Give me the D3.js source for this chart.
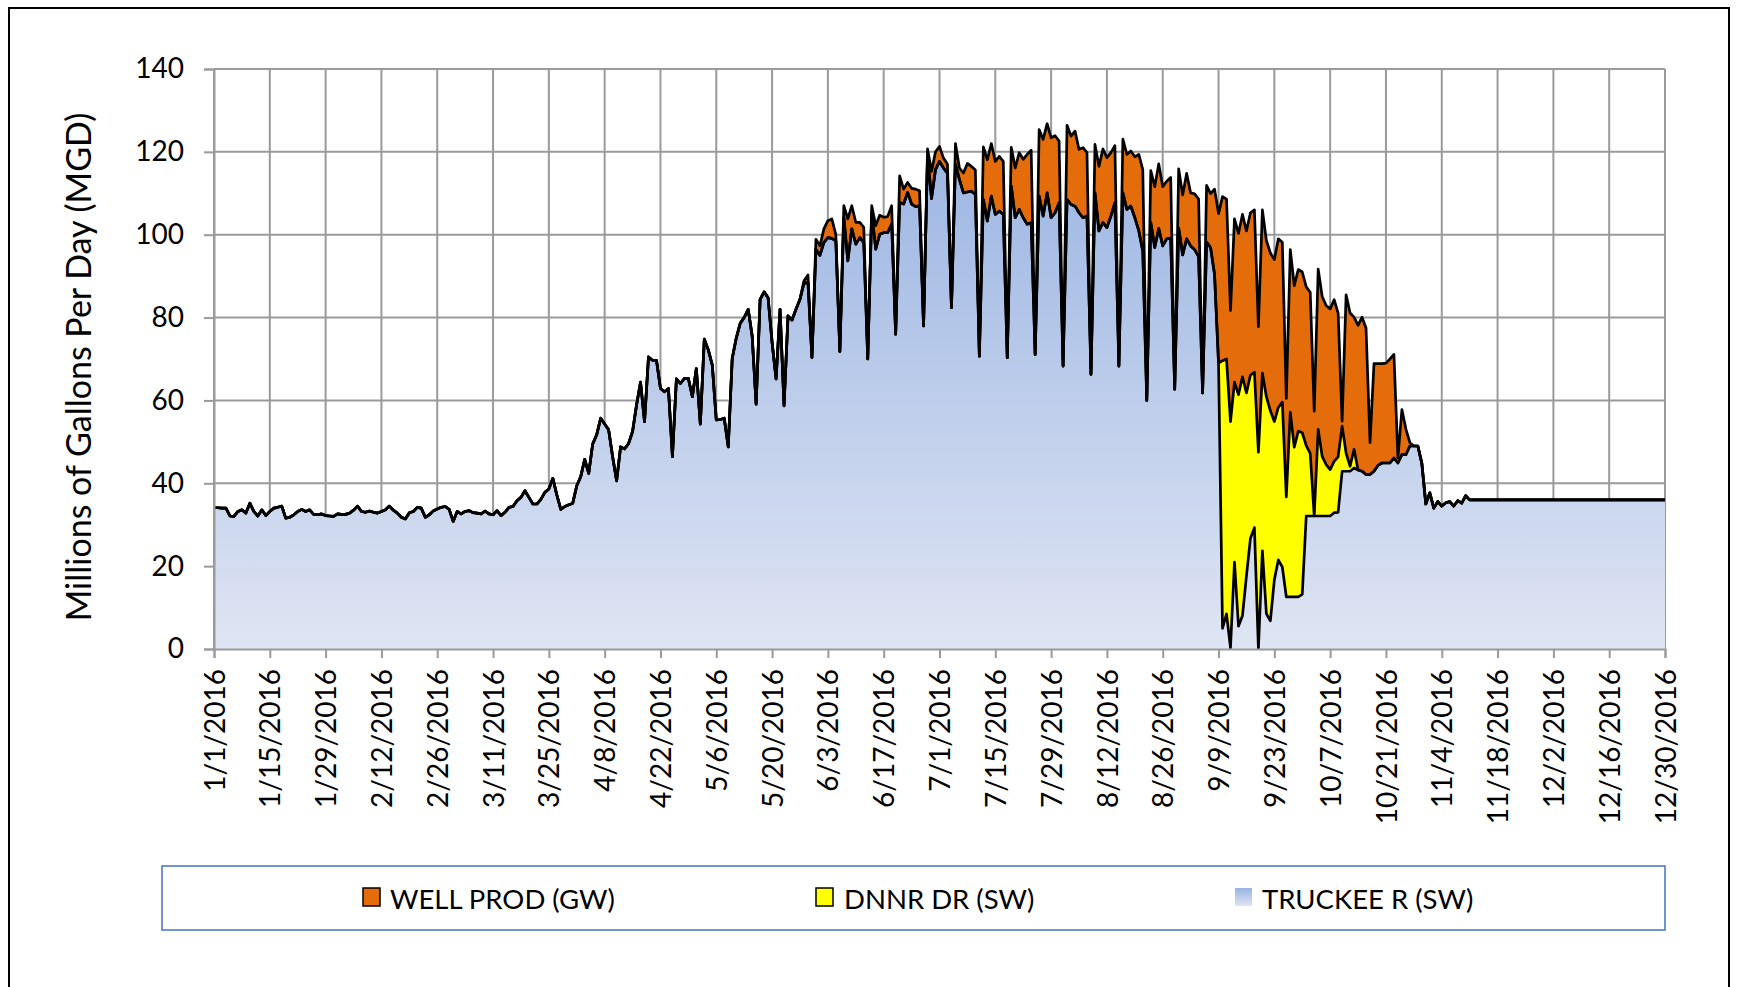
<!DOCTYPE html>
<html>
<head>
<meta charset="utf-8">
<script src="https://cdn.jsdelivr.net/npm/d3@7"></script>
<style>
  html, body { margin: 0; padding: 0; background: #fff; }
  svg { display: block; }
</style>
</head>
<body>
<script>
// daily values, MGD, starting 1/1/2016
const startDate = new Date(2016, 0, 1);
const endTickDate = new Date(2016, 11, 30);

const truckee = [
  34.1, 34.1, 34.0, 34.0, 32.1, 32.0, 33.2, 33.6, 32.8, 35.2,
  33.2, 32.1, 33.6, 32.2, 33.2, 34.0, 34.2, 34.5, 31.6, 31.8,
  32.4, 33.2, 33.7, 33.2, 33.6, 32.5, 32.4, 32.6, 32.2, 32.1,
  32.0, 32.6, 32.5, 32.5, 32.8, 33.5, 34.5, 33.2, 33.0, 33.3,
  33.0, 32.8, 33.2, 33.6, 34.5, 33.5, 32.8, 31.8, 31.4, 32.9,
  33.2, 34.2, 34.0, 31.8, 32.4, 33.3, 33.8, 34.2, 34.4, 33.7,
  30.8, 33.2, 32.6, 33.2, 33.4, 32.9, 32.8, 32.6, 33.3, 32.6,
  32.4, 33.4, 32.2, 33.0, 34.2, 34.4, 35.8, 36.6, 38.2, 36.6,
  35.0, 35.0, 36.1, 37.8, 38.6, 41.2, 37.2, 33.7, 34.4, 34.8,
  35.2, 39.4, 41.6, 45.8, 42.4, 49.5, 51.7, 55.7, 54.3, 52.9,
  46.4, 40.6, 48.8, 48.3, 49.6, 52.5, 58.9, 64.4, 54.9, 70.5,
  69.7, 69.7, 62.9, 62.1, 62.9, 46.4, 65.2, 64.1, 65.3, 65.3,
  60.9, 67.7, 54.3, 74.8, 72.2, 68.5, 55.3, 55.4, 55.7, 48.8,
  70.1, 75.0, 78.6, 80.0, 82.0, 75.6, 59.1, 84.4, 86.2, 84.8,
  74.0, 65.2, 82.0, 58.7, 80.4, 79.4, 82.0, 84.4, 88.3, 88.5,
  70.4, 96.5, 95.0, 98.1, 99.3, 99.1, 98.5, 71.8, 104.2, 93.7,
  101.4, 97.7, 99.3, 98.1, 70.0, 105.4, 96.5, 100.1, 100.5, 100.5,
  102.6, 76.0, 107.8, 107.4, 110.2, 107.4, 106.8, 107.0, 78.0, 119.0,
  108.7, 115.7, 117.7, 116.1, 114.8, 82.4, 117.0, 113.3, 110.1, 110.3,
  110.5, 109.7, 70.7, 108.5, 103.3, 109.3, 104.9, 105.7, 104.9, 70.3,
  111.7, 104.1, 106.1, 104.1, 102.5, 102.9, 71.1, 109.3, 104.5, 110.1,
  104.1, 105.3, 107.7, 68.3, 108.5, 107.3, 106.9, 105.3, 104.1, 104.5,
  66.3, 110.1, 100.9, 102.9, 101.7, 104.5, 107.7, 68.3, 110.1, 106.1,
  106.9, 104.1, 100.9, 96.0, 60.0, 102.9, 96.9, 101.5, 97.3, 99.0,
  99.2, 62.7, 101.6, 95.1, 99.0, 97.3, 96.4, 94.7, 61.8, 98.2,
  96.9, 90.4, 69.0, 5.0, 8.5, 0.3, 21.0, 5.5, 8.0, 17.6,
  26.7, 29.3, 0.0, 23.7, 8.5, 6.8, 16.7, 21.5, 19.8, 12.6,
  12.6, 12.6, 12.6, 13.2, 32.1, 32.1, 32.1, 32.1, 32.1, 32.1,
  32.1, 32.9, 33.0, 42.9, 42.9, 42.9, 43.7, 43.2, 42.9, 42.1,
  42.1, 42.9, 44.3, 44.9, 44.9, 44.9, 46.1, 44.9, 46.9, 46.9,
  49.0, 49.0, 49.0, 44.8, 35.0, 37.7, 34.0, 35.6, 34.5, 35.3,
  35.6, 34.5, 35.8, 35.2, 37.0, 36.0, 36.0, 36.0, 36.0, 36.0,
  36.0, 36.0, 36.0, 36.0, 36.0, 36.0, 36.0, 36.0, 36.0, 36.0,
  36.0, 36.0, 36.0, 36.0, 36.0, 36.0, 36.0, 36.0, 36.0, 36.0,
  36.0, 36.0, 36.0, 36.0, 36.0, 36.0, 36.0, 36.0, 36.0, 36.0,
  36.0, 36.0, 36.0, 36.0, 36.0, 36.0, 36.0, 36.0, 36.0, 36.0,
  36.0, 36.0, 36.0, 36.0, 36.0
];

// Donner diversion, 9/9 - 10/14 (zero the rest of the year)
const dnnrFrom = new Date(2016, 8, 9);
const dnnr = [
  0.0, 64.6, 61.5, 54.6, 43.4, 55.9, 57.7, 44.2, 39.4, 37.5,
  47.5, 42.9, 52.4, 50.7, 38.2, 36.8, 39.8, 24.1, 44.6, 36.1,
  40.0, 39.0, 17.0, 15.1, 0.0, 20.9, 14.4, 12.4, 11.2, 12.4,
  13.4, 10.9, 4.4, 1.2, 4.5, 0.0
];

// well production, 5/28 - 10/27 (zero the rest of the year)
const wellFrom = new Date(2016, 4, 28);
const well = [
  0.6, 1.8, 0.0, 2.4, 2.3, 3.3, 4.1, 4.7, 1.5, 0.0,
  2.8, 10.1, 5.6, 5.3, 3.7, 3.7, 0.0,
  1.6, 5.7, 4.6, 3.7, 3.9, 4.4, 0.0,
  6.4, 3.6, 2.4, 3.8, 4.2, 3.6, 0.0,
  1.7, 6.6, 4.3, 3.6, 2.4, 2.2, 0.0,
  5.0, 2.8, 4.8, 6.9, 6.0, 5.9, 0.0,
  12.7, 14.8, 12.7, 12.8, 13.2, 12.8, 0.0,
  9.4, 12.0, 13.7, 14.1, 16.9, 17.5, 0.0,
  16.1, 18.5, 16.7, 19.3, 18.6, 14.9, 0.0,
  17.9, 16.5, 18.1, 15.3, 16.9, 15.3, 0.0,
  11.7, 15.6, 17.8, 16.9, 15.3, 13.8, 0.0,
  13.0, 13.3, 13.3, 14.7, 18.5, 19.7, 0.0,
  12.6, 14.7, 15.6, 14.3, 13.9, 14.6, 0.0,
  14.3, 14.5, 15.8, 12.8, 13.5, 13.9, 0.0,
  13.7, 13.0, 20.6, 36.1, 39.6, 38.6, 26.8,
  39.4, 38.9, 39.2, 39.1, 39.2, 39.2, 30.3,
  39.4, 37.7, 38.1, 39.1, 40.7, 38.6, 23.8,
  39.2, 39.0, 39.0, 38.8, 38.3, 38.9, 25.3,
  38.7, 38.6, 38.4, 38.8, 39.0, 34.7, 1.2,
  38.2, 37.0, 31.9, 34.9, 37.2, 35.4, 7.7,
  26.0, 24.6, 24.0, 24.1, 25.1, 25.0, 1.2,
  10.9, 6.2, 0.8
];

const yTicks = [0, 20, 40, 60, 80, 100, 120, 140];
const seriesNames = ["WELL PROD (GW)", "DNNR DR (SW)", "TRUCKEE R (SW)"];

const width = 1737;
const height = 987;
const plot = { left: 214, right: 1665, top: 69, bottom: 649 };
const font = "Lato, 'Open Sans', Arial, sans-serif";

const dates = truckee.map((_, i) => d3.timeDay.offset(startDate, i));
const dnnrOffset = d3.timeDay.count(startDate, dnnrFrom);
const wellOffset = d3.timeDay.count(startDate, wellFrom);

const rows = dates.map((date, i) => ({
  date,
  truckee: truckee[i],
  dnnr: dnnr[i - dnnrOffset] ?? 0,
  well: well[i - wellOffset] ?? 0,
}));

const stacked = d3.stack().keys(["truckee", "dnnr", "well"])(rows);

const x = d3.scaleTime().domain([startDate, endTickDate]).range([plot.left, plot.right]);
const y = d3.scaleLinear().domain([0, 140]).range([plot.bottom, plot.top]);
const tickDates = d3.timeDay.range(startDate, d3.timeDay.offset(endTickDate, 1), 14);

const svg = d3.select("body").append("svg")
  .attr("width", width)
  .attr("height", height)
  .attr("viewBox", `0 0 ${width} ${height}`);

const defs = svg.append("defs");
const grad = defs.append("linearGradient")
  .attr("id", "truckeeFill")
  .attr("gradientUnits", "userSpaceOnUse")
  .attr("x1", 0).attr("x2", 0)
  .attr("y1", y(127)).attr("y2", y(0));
grad.append("stop").attr("offset", 0).attr("stop-color", "#98b3e2");
grad.append("stop").attr("offset", 1).attr("stop-color", "#dfe5f3");

const swatchGrad = defs.append("linearGradient")
  .attr("id", "truckeeSwatch")
  .attr("x1", 0).attr("x2", 0).attr("y1", 0).attr("y2", 1);
swatchGrad.append("stop").attr("offset", 0).attr("stop-color", "#98b3e2");
swatchGrad.append("stop").attr("offset", 1).attr("stop-color", "#dfe5f3");

defs.append("clipPath").attr("id", "plotClip")
  .append("rect")
  .attr("x", plot.left).attr("y", plot.top - 5)
  .attr("width", plot.right - plot.left).attr("height", plot.bottom - plot.top + 5);

// chart border
svg.append("rect")
  .attr("x", 9).attr("y", 8)
  .attr("width", 1720).attr("height", 1000)
  .attr("fill", "none")
  .attr("stroke", "#000")
  .attr("stroke-width", 2);

// gridlines
const grid = svg.append("g").attr("stroke", "#9a9a9a").attr("stroke-width", 2);
grid.selectAll("line.h")
  .data(yTicks)
  .join("line")
  .attr("class", "h")
  .attr("x1", plot.left).attr("x2", plot.right)
  .attr("y1", (d) => y(d)).attr("y2", (d) => y(d));
grid.selectAll("line.v")
  .data(tickDates)
  .join("line")
  .attr("class", "v")
  .attr("x1", (d) => x(d)).attr("x2", (d) => x(d))
  .attr("y1", plot.top).attr("y2", plot.bottom);

// stacked areas
const fills = ["url(#truckeeFill)", "#ffff00", "#e46c0a"];
const area = d3.area()
  .x((d) => x(d.data.date))
  .y0((d) => y(d[0]))
  .y1((d) => y(d[1]));
const line = d3.line()
  .x((d) => x(d.data.date))
  .y((d) => y(d[1]));

const chart = svg.append("g").attr("clip-path", "url(#plotClip)");
chart.selectAll("path.area")
  .data(stacked)
  .join("path")
  .attr("class", "area")
  .attr("d", area)
  .attr("fill", (d, i) => fills[i]);

chart.selectAll("path.top")
  .data(stacked)
  .join("path")
  .attr("class", "top")
  .attr("d", line)
  .attr("fill", "none")
  .attr("stroke", "#000")
  .attr("stroke-width", 2.7)
  .attr("stroke-linejoin", "round");

// y axis
const yAxis = svg.append("g")
  .attr("transform", `translate(${plot.left},0)`)
  .call(d3.axisLeft(y).tickValues(yTicks).tickSize(10).tickPadding(20));
yAxis.select(".domain").attr("stroke", "#9a9a9a").attr("stroke-width", 2);
yAxis.selectAll(".tick line").attr("stroke", "#9a9a9a").attr("stroke-width", 2);
yAxis.selectAll(".tick text")
  .attr("fill", "#000")
  .attr("font-family", font)
  .attr("font-size", 28);

// x axis
const xAxis = svg.append("g")
  .attr("transform", `translate(0,${plot.bottom})`)
  .call(d3.axisBottom(x).tickValues(tickDates).tickSize(9).tickFormat(d3.timeFormat("%-m/%-d/%Y")));
xAxis.select(".domain").attr("stroke", "#9a9a9a").attr("stroke-width", 2);
xAxis.selectAll(".tick line").attr("stroke", "#9a9a9a").attr("stroke-width", 2);
xAxis.selectAll(".tick text")
  .attr("fill", "#000")
  .attr("font-family", font)
  .attr("font-size", 28)
  .attr("transform", "rotate(-90)")
  .attr("text-anchor", "end")
  .attr("x", -20)
  .attr("y", 0)
  .attr("dy", "0.36em");

// y title
svg.append("text")
  .attr("transform", "translate(77,367) rotate(-90)")
  .attr("text-anchor", "middle")
  .attr("dominant-baseline", "central")
  .attr("fill", "#000")
  .attr("font-family", font)
  .attr("font-size", 34)
  .text("Millions of Gallons Per Day (MGD)");

// legend
svg.append("rect")
  .attr("x", 162).attr("y", 866)
  .attr("width", 1503).attr("height", 64)
  .attr("fill", "#fff")
  .attr("stroke", "#4472c4")
  .attr("stroke-width", 1.5);

const legendItems = [
  { label: seriesNames[0], fill: "#e46c0a", stroke: "#000", sx: 363, tx: 390 },
  { label: seriesNames[1], fill: "#ffff00", stroke: "#000", sx: 816, tx: 844 },
  { label: seriesNames[2], fill: "url(#truckeeSwatch)", stroke: "none", sx: 1235, tx: 1262 },
];
const legend = svg.append("g").selectAll("g").data(legendItems).join("g");
legend.append("rect")
  .attr("x", (d) => d.sx).attr("y", 888)
  .attr("width", 17).attr("height", 18)
  .attr("fill", (d) => d.fill)
  .attr("stroke", (d) => d.stroke)
  .attr("stroke-width", 1.5);
legend.append("text")
  .attr("x", (d) => d.tx).attr("y", 898)
  .attr("dominant-baseline", "central")
  .attr("fill", "#000")
  .attr("font-family", font)
  .attr("font-size", 27.5)
  .text((d) => d.label);
</script>
</body>
</html>
